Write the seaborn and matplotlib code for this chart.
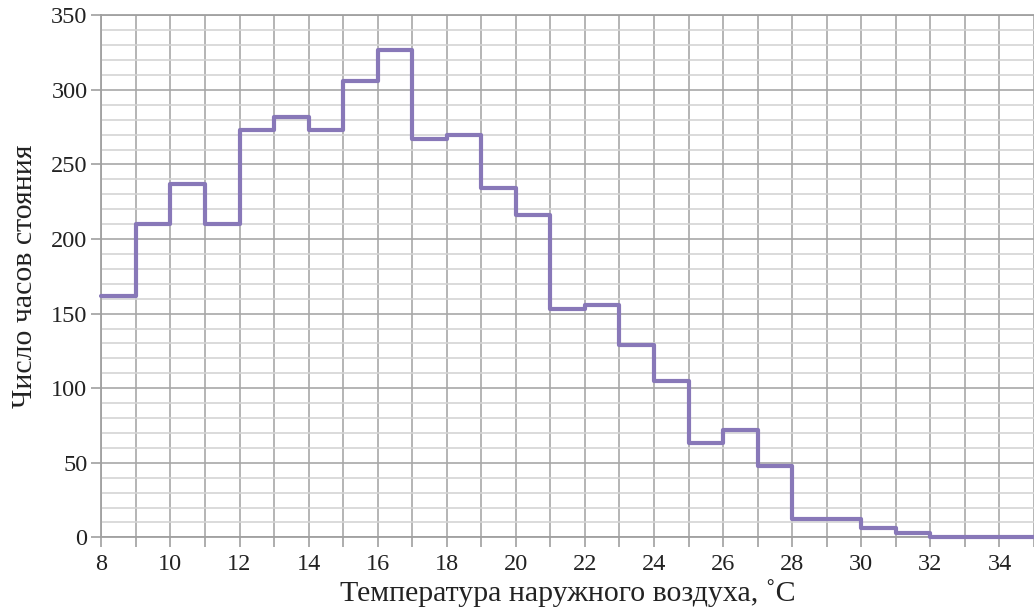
import numpy as np
import pandas as pd
import matplotlib
matplotlib.use("Agg")
import matplotlib.pyplot as plt
import seaborn as sns
from matplotlib.ticker import MultipleLocator

# Data: hours per 1 °C temperature bin, bins start at 8 °C
bin_starts = list(range(8, 35))
hours = [162, 210, 237, 210, 273, 282, 273, 306, 327, 267, 270, 234, 216,
         153, 156, 129, 105, 63, 72, 48, 12, 12, 6, 3, 0, 0, 0]
x_ticks = list(range(8, 36, 2))
y_ticks = list(range(0, 351, 50))

xlabel = "Температура наружного воздуха, ˚C"
ylabel = "Число часов стояния"

sns.set_theme(style="white")
plt.rcParams['font.family'] = ['Liberation Serif', 'DejaVu Serif']

edges = bin_starts + [bin_starts[-1] + 1]
df = pd.DataFrame({"t": edges, "h": hours + [hours[-1]]})

fig = plt.figure(figsize=(10.34, 6.12), dpi=100)
ax = fig.add_axes([0.098, 0.122, 0.902, 0.853])

sns.lineplot(data=df, x="t", y="h", drawstyle="steps-post", color="#8878b8",
             linewidth=3.0, ax=ax, zorder=5, clip_on=False)

ax.set_xlim(8, 35)
ax.set_ylim(0, 350)
ax.set_xticks(x_ticks)
ax.xaxis.set_minor_locator(MultipleLocator(1))
ax.set_yticks(y_ticks)
ax.yaxis.set_minor_locator(MultipleLocator(10))

ax.grid(True, which="major", axis="both", color="#a8a8a8", linewidth=1.2)
ax.grid(True, which="minor", axis="x", color="#a8a8a8", linewidth=1.2)
ax.grid(True, which="minor", axis="y", color="#d4d4d4", linewidth=1.2)
ax.set_axisbelow(True)

for side in ["left", "bottom", "top"]:
    ax.spines[side].set_color("#a0a0a0")
    ax.spines[side].set_linewidth(1.3)
ax.spines["right"].set_visible(False)

ax.tick_params(axis="x", which="both", bottom=True, length=7, width=1.2,
               color="#a0a0a0", labelsize=17.5, pad=5)
ax.tick_params(axis="y", which="major", left=True, length=7, width=1.2,
               color="#a0a0a0", labelsize=17.5, pad=3)
ax.tick_params(axis="y", which="minor", left=False)
ax.tick_params(labelcolor="#222222")

ax.set_xlabel(xlabel, fontsize=21.5, color="#222222", labelpad=3)
ax.set_ylabel(ylabel, fontsize=21.5, color="#222222", labelpad=9)

fig.savefig("out.png", dpi=100)
